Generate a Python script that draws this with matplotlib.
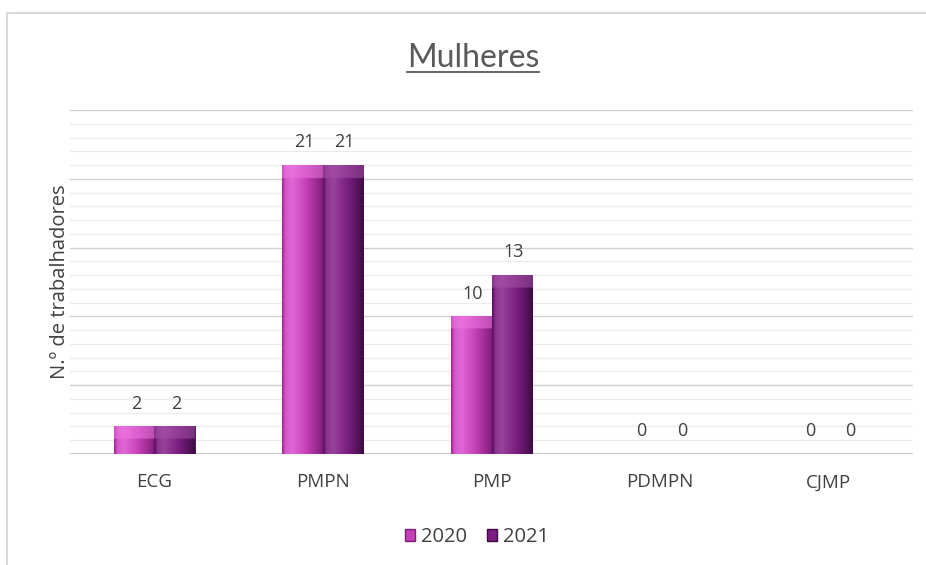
import numpy as np
import matplotlib
matplotlib.use("Agg")
import matplotlib.pyplot as plt
from matplotlib.patches import Patch, Rectangle
from matplotlib.colors import to_rgb
from matplotlib.ticker import MultipleLocator

categories = ["ECG", "PMPN", "PMP", "PDMPN", "CJMP"]
series_names = ["2020", "2021"]
values_2020 = [2, 21, 10, 0, 0]
values_2021 = [2, 21, 13, 0, 0]

plt.rcParams['font.family'] = ['Open Sans', 'DejaVu Sans']
TXT = '#404040'

fig = plt.figure(figsize=(9.26, 5.65), dpi=100)
fig.patches.append(Rectangle((7/926, -0.05), 1.2, 1 - 13/565 + 0.05, transform=fig.transFigure,
                             fill=False, edgecolor='#D9D9D9', linewidth=1.5))
ax = fig.add_axes([70/926, 1 - 454/565, (913 - 70)/926, (454 - 110)/565])

x = np.arange(len(categories))
w = 0.24
ax.set_xlim(-0.5, len(categories) - 0.5)
ax.set_ylim(0, 25)
ax.yaxis.set_major_locator(MultipleLocator(5))
ax.yaxis.set_minor_locator(MultipleLocator(1))
ax.grid(axis='y', which='major', color='#D0D0D0', linewidth=1.0)
ax.grid(axis='y', which='minor', color='#EBEBEB', linewidth=0.9)
ax.set_axisbelow(True)
for s in ax.spines.values():
    s.set_visible(False)
ax.tick_params(axis='y', which='both', left=False, labelleft=False)
ax.tick_params(axis='x', length=0, labelsize=13.5, labelcolor=TXT, pad=14)
ax.set_xticks(x)
ax.set_xticklabels(categories)
ax.axhline(0, color='#BFBFBF', linewidth=1.2, zorder=1)

palettes = [
    dict(base='#C440B6', light='#EE78E2', dark='#7E1C78'),
    dict(base='#7A1F80', light='#A552A8', dark='#3E0A44'),
]

def shade(bar, pal):
    bx, by = bar.get_x(), bar.get_y()
    bw, bh = bar.get_width(), bar.get_height()
    if bh <= 0:
        return
    nx, ny = 60, 200
    base = np.array(to_rgb(pal['base']))
    light = np.array(to_rgb(pal['light']))
    dark = np.array(to_rgb(pal['dark']))
    t = np.linspace(0, 1, nx)
    prof = np.interp(t, [0, 0.08, 0.25, 0.6, 0.9, 1.0], [0.2, 0.7, 0.85, 0.5, 0.15, 0.0])
    row = np.where(prof[:, None] >= 0.5,
                   base + (light - base) * ((prof[:, None] - 0.5) / 0.5),
                   dark + (base - dark) * (prof[:, None] / 0.5))
    img = np.tile(row[None, :, :], (ny, 1, 1))
    ys = np.linspace(by + bh, by, ny)
    bevel = 0.9
    top = ys > (by + bh - bevel)
    img[top] = img[top] * 0.45 + light * 0.55
    im = ax.imshow(img, extent=(bx, bx + bw, by, by + bh), aspect='auto',
                   interpolation='bilinear', zorder=3)
    im.set_clip_path(bar)

for i, (vals, pal) in enumerate(zip([values_2020, values_2021], palettes)):
    offs = (i - 0.5) * w
    bars = ax.bar(x + offs, vals, width=w, color=pal['base'], edgecolor=pal['dark'],
                  linewidth=0.6, zorder=2)
    for b in bars:
        shade(b, pal)
    for xi, v in zip(x + offs, vals):
        ax.annotate(str(v), (xi + 0.01, v), xytext=(0, 10), textcoords='offset points',
                    ha='center', va='bottom', fontsize=13, color=TXT)

ax.set_ylabel("N.º de trabalhadores", fontsize=14.5, color=TXT)
ax.yaxis.set_label_coords(0.0, 0.5)

handles = [Patch(facecolor=palettes[0]['base'], edgecolor=palettes[0]['dark'], label=series_names[0]),
           Patch(facecolor=palettes[1]['base'], edgecolor=palettes[1]['dark'], label=series_names[1])]
fig.legend(handles=handles, loc='center', bbox_to_anchor=(477/926, 1 - 537/565), ncol=2,
           frameon=False, fontsize=14.5, handlelength=0.5, handleheight=0.5, handletextpad=0.3,
           columnspacing=1.0, labelcolor=TXT)

title = fig.text(473/926, 1 - 58/565, "Mulheres", ha='center', va='center', fontsize=23,
                 color='#595959', family=['Lato', 'DejaVu Sans'])
fig.canvas.draw()
bb = title.get_window_extent().transformed(fig.transFigure.inverted())
fig.add_artist(plt.Line2D([bb.x0, bb.x1], [bb.y0 + 0.002, bb.y0 + 0.002], transform=fig.transFigure,
                          color='#595959', linewidth=1.3))

fig.savefig("out.png", dpi=100)
